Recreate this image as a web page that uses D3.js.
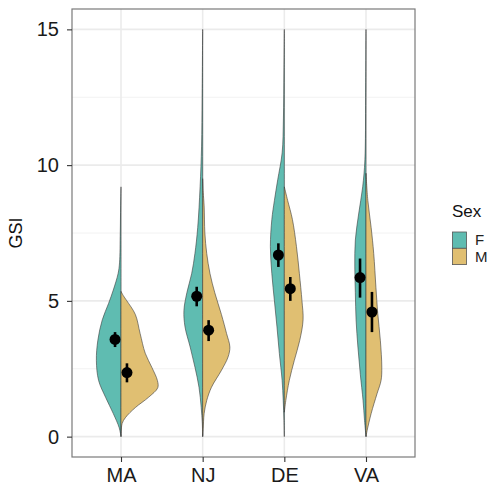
<!DOCTYPE html>
<html>
<head>
<meta charset="utf-8">
<script src="https://cdn.jsdelivr.net/npm/d3@7"></script>
<style>
  body { margin: 0; background: #fff; }
  text { font-family: "Liberation Sans", Arial, sans-serif; }
</style>
</head>
<body>
<svg></svg>
<script>
const width = 493;
const height = 486;
const panelLeft = 72, panelRight = 415, panelTop = 9, panelBottom = 457;

// categories + sexes
const sites = ["MA", "NJ", "DE", "VA"];
const sexes = ["F", "M"];
const yTicks = [0, 5, 10, 15];

// density profiles, [GSI, relative density]
const densF = {
  MA: [[0,0],[0.33,0.05],[0.85,0.21],[1.45,0.42],[2.07,0.61],[2.8,0.67],[3.55,0.63],[4.3,0.51],[4.9,0.34],[5.4,0.21],[6.0,0.08],[6.4,0.04],[7.5,0.02],[8.5,0.01],[9.2,0]],
  NJ: [[0,0],[0.5,0.01],[1.08,0.04],[1.82,0.1],[2.56,0.21],[3.3,0.34],[4.04,0.48],[4.65,0.51],[5.3,0.43],[6.0,0.3],[6.75,0.21],[7.7,0.135],[9.2,0.07],[10.7,0.03],[12.5,0.015],[15,0]],
  DE: [[0,0],[0.6,0.01],[1.33,0.03],[2.07,0.06],[3.06,0.135],[4.04,0.2],[5.0,0.27],[6.0,0.34],[7.0,0.38],[8.0,0.34],[8.7,0.27],[9.46,0.18],[10.45,0.06],[11.7,0.025],[13.5,0.01],[15,0]],
  VA: [[0,0],[0.6,0.04],[1.33,0.08],[2.3,0.155],[3.3,0.22],[4.3,0.27],[5.3,0.29],[6.25,0.305],[7.24,0.29],[8.2,0.2],[9.2,0.09],[10.2,0.03],[12.5,0.01],[15,0]]
};
const densM = {
  MA: [[0,0],[0.48,0.03],[0.7,0.12],[1.07,0.39],[1.45,0.75],[1.8,1.0],[2.07,0.99],[2.55,0.84],[3.07,0.66],[3.8,0.52],[4.5,0.39],[5.0,0.16],[5.2,0.06],[5.35,0]],
  NJ: [[0,0],[0.3,0.015],[0.85,0.04],[1.33,0.11],[1.82,0.24],[2.44,0.51],[2.93,0.69],[3.3,0.74],[3.8,0.65],[4.5,0.51],[5.3,0.33],[6.0,0.2],[6.75,0.11],[7.5,0.06],[8.5,0.04],[9.0,0.015],[9.5,0]],
  DE: [[0.9,0],[1.33,0.04],[2.07,0.135],[2.8,0.27],[3.55,0.42],[4.3,0.51],[5.0,0.48],[6.0,0.41],[7.0,0.33],[8.0,0.22],[8.7,0.09],[9.2,0]],
  VA: [[0,0],[0.22,0.03],[0.85,0.14],[1.58,0.3],[2.07,0.41],[2.56,0.43],[3.55,0.39],[4.54,0.32],[5.5,0.27],[6.75,0.21],[7.7,0.14],[8.7,0.05],[9.7,0]]
};

// mean + interval
const meanF = [3.58, 5.17, 6.69, 5.86];
const lowF = [3.3, 4.8, 6.25, 5.12];
const highF = [3.85, 5.52, 7.12, 6.56];
const meanM = [2.36, 3.92, 5.45, 4.59];
const lowM = [2.0, 3.52, 5.0, 3.85];
const highM = [2.7, 4.29, 5.88, 5.33];

const colors = {F: "#5fbcb1", M: "#e0bf72"};

const svg = d3.select("svg").attr("width", width).attr("height", height);

const xScale = d3.scalePoint().domain(sites).range([panelLeft, panelRight]).padding(0.6);
const step = xScale.step();
const yScale = d3.scaleLinear().domain([-0.75, 15.75]).range([panelBottom, panelTop]);
const wScale = d3.scaleLinear().domain([0, 1]).range([0, 0.45 * step]);

// grid
const minor = [2.5, 7.5, 12.5];

svg.selectAll(".minor").data(minor).enter().append("line")
  .attr("x1", panelLeft).attr("x2", panelRight)
  .attr("y1", d => yScale(d)).attr("y2", d => yScale(d))
  .attr("stroke", "#f2f2f2").attr("stroke-width", 1);

svg.selectAll(".hgrid").data(yTicks).enter().append("line")
  .attr("x1", panelLeft).attr("x2", panelRight)
  .attr("y1", d => yScale(d)).attr("y2", d => yScale(d))
  .attr("stroke", "#ebebeb").attr("stroke-width", 1.6);

svg.selectAll(".vgrid").data(sites).enter().append("line")
  .attr("y1", panelTop).attr("y2", panelBottom)
  .attr("x1", d => xScale(d)).attr("x2", d => xScale(d))
  .attr("stroke", "#ebebeb").attr("stroke-width", 1.6);

// violins
const half = (site, sex) => {
  const cx = xScale(site);
  const sign = sex === "F" ? -1 : 1;
  return d3.area()
    .y(d => yScale(d[0]))
    .x0(cx)
    .x1(d => cx + sign * wScale(d[1]))
    .curve(d3.curveCatmullRom);
};

sites.forEach(site => {
  sexes.forEach(sex => {
    const dens = sex === "F" ? densF[site] : densM[site];
    svg.append("path")
      .datum(dens)
      .attr("d", half(site, sex))
      .attr("fill", colors[sex])
      .attr("stroke", "#3a3a3a")
      .attr("stroke-width", 0.6);
  });
});

// means
const dodge = 0.073 * step;
const pts = [];
sites.forEach((s, i) => {
  pts.push({site: s, off: -dodge, m: meanF[i], lo: lowF[i], hi: highF[i]});
  pts.push({site: s, off: dodge, m: meanM[i], lo: lowM[i], hi: highM[i]});
});

svg.selectAll(".err").data(pts).enter().append("line")
  .attr("x1", d => xScale(d.site) + d.off).attr("x2", d => xScale(d.site) + d.off)
  .attr("y1", d => yScale(d.lo)).attr("y2", d => yScale(d.hi))
  .attr("stroke", "#000").attr("stroke-width", 2.6);

svg.selectAll(".pt").data(pts).enter().append("circle")
  .attr("cx", d => xScale(d.site) + d.off)
  .attr("cy", d => yScale(d.m))
  .attr("r", 5.5)
  .attr("fill", "#000");

// border
svg.append("rect").attr("x", panelLeft).attr("y", panelTop)
  .attr("width", panelRight - panelLeft).attr("height", panelBottom - panelTop)
  .attr("fill", "none").attr("stroke", "#7a7a7a").attr("stroke-width", 1.2);

// axes
const yAxis = d3.axisLeft(yScale).tickValues(yTicks).tickSize(5).tickPadding(8);
const gy = svg.append("g").attr("transform", "translate(" + panelLeft + ",0)").call(yAxis);
const xAxis = d3.axisBottom(xScale).tickSize(5).tickPadding(6);
const gx = svg.append("g").attr("transform", "translate(0," + panelBottom + ")").call(xAxis);

[gy, gx].forEach(g => {
  g.select(".domain").remove();
  g.selectAll(".tick line").attr("stroke", "#333").attr("stroke-width", 1.1);
  g.selectAll(".tick text").attr("fill", "#1a1a1a").style("font-size", "20px");
});

svg.append("text")
  .attr("transform", "translate(22," + ((panelTop + panelBottom) / 2) + ") rotate(-90)")
  .attr("text-anchor", "middle")
  .style("font-size", "18px")
  .attr("fill", "#111")
  .text("GSI");

// legend
const lg = svg.append("g").attr("transform", "translate(452,0)");
lg.append("text").attr("x", 0).attr("y", 217).style("font-size", "17px").attr("fill", "#111").text("Sex");
sexes.forEach((s, i) => {
  lg.append("rect")
    .attr("x", 0.5).attr("y", 232 + i * 16.3)
    .attr("width", 14).attr("height", 16.3)
    .attr("fill", colors[s]).attr("stroke", "#555").attr("stroke-width", 0.8);
  lg.append("text")
    .attr("x", 23).attr("y", 240 + i * 16.3)
    .attr("dy", "0.36em")
    .style("font-size", "15px").attr("fill", "#222")
    .text(s);
});
</script>
</body>
</html>
